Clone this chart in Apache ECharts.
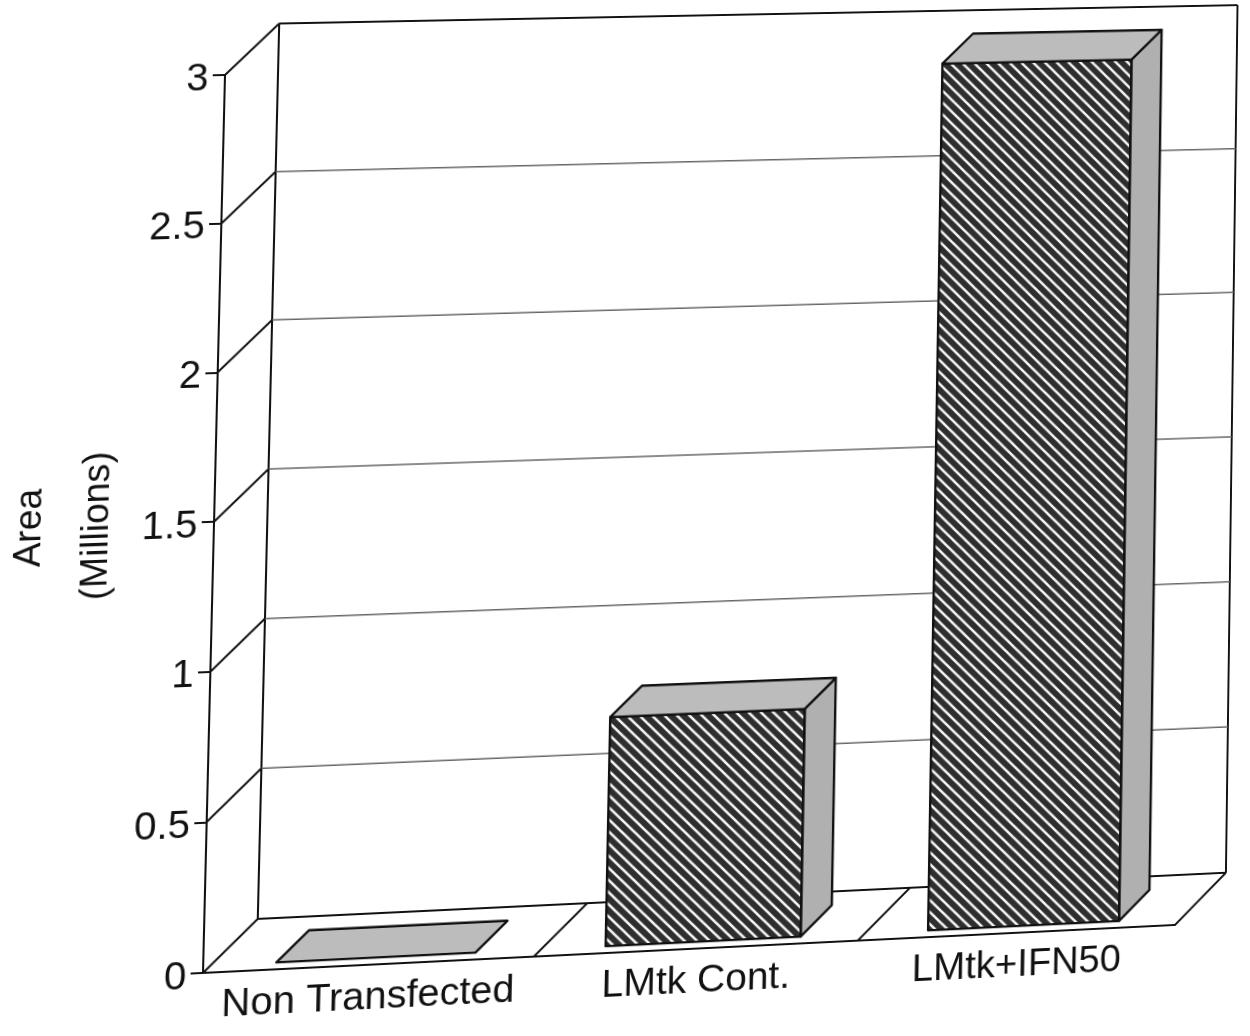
<!DOCTYPE html>
<html lang="en">

<head>
    <meta charset="UTF-8">
    <title>Area</title>
    <script src="https://cdn.jsdelivr.net/npm/echarts/dist/echarts.min.js"></script>
    <style>
        html, body { margin: 0; background: #fff; overflow: hidden; }
        #main { width: 1250px; height: 1036px; transform-origin: 0 0; }
    </style>
</head>

<body>
    <div id="main"></div>

    <script>
        const categories = ['Non Transfected', 'LMtk Cont.', 'LMtk+IFN50'];
        const areaValues = [0, 0.77, 2.965];
        const yTicks = [0, 0.5, 1, 1.5, 2, 2.5, 3];
        const yAxisName = 'Area\n(Millions)';

        // the plot depth in px, and where the bars sit inside it
        const depthX = 52, depthY = -51;
        const barDepthFront = 0.135, barDepthBack = 0.73;
        const barStart = 0.198, barEnd = 0.8;

        // the scan is tilted: warp the flat chart on to these four corners
        const flatCorners = [[203, 973], [203, 75], [1175, 973], [1175, 75]];
        const scanCorners = [[203, 973], [225, 75], [1175, 925], [1187, 55]];

        function homography(src, dst) {
            const m = [];
            src.forEach((s, i) => {
                const d = dst[i];
                m.push([s[0], s[1], 1, 0, 0, 0, -s[0] * d[0], -s[1] * d[0], d[0]]);
                m.push([0, 0, 0, s[0], s[1], 1, -s[0] * d[1], -s[1] * d[1], d[1]]);
            });
            for (let c = 0; c < 8; c++) {
                let p = c;
                for (let r = c + 1; r < 8; r++) if (Math.abs(m[r][c]) > Math.abs(m[p][c])) p = r;
                [m[c], m[p]] = [m[p], m[c]];
                for (let r = 0; r < 8; r++) {
                    if (r === c) continue;
                    const f = m[r][c] / m[c][c];
                    for (let k = c; k < 9; k++) m[r][k] -= f * m[c][k];
                }
            }
            return m.map((row, i) => row[8] / row[i]);
        }

        const h = homography(flatCorners, scanCorners);
        document.getElementById('main').style.transform =
            `matrix3d(${h[0]},${h[3]},0,${h[6]},${h[1]},${h[4]},0,${h[7]},0,0,1,0,${h[2]},${h[5]},0,1)`;

        // hatch tile: white diagonals on dark
        function hatchTile() {
            const size = 12;
            const c = document.createElement('canvas');
            c.width = size; c.height = size;
            const ctx = c.getContext('2d');
            ctx.fillStyle = '#2e2e2e';
            ctx.fillRect(0, 0, size, size);
            ctx.strokeStyle = '#f4f4f4';
            ctx.lineWidth = 2.6;
            [-size, 0, size].forEach(o => {
                ctx.beginPath();
                ctx.moveTo(o - 2, -2);
                ctx.lineTo(o + size + 2, size + 2);
                ctx.stroke();
            });
            return c;
        }
        const hatch = { image: hatchTile(), repeat: 'repeat' };

        const blackLine = { stroke: '#111', lineWidth: 2, fill: 'none' };
        const gridLine = { stroke: '#666', lineWidth: 1.5, fill: 'none' };

        function line(p1, p2, style) {
            return { type: 'line', shape: { x1: p1[0], y1: p1[1], x2: p2[0], y2: p2[1] }, style: style };
        }
        function face(points, fill) {
            return {
                type: 'polygon',
                shape: { points: points },
                style: { fill: fill, stroke: '#111', lineWidth: 2.4, lineJoin: 'round' }
            };
        }
        function atDepth(p, d) {
            return [p[0] + depthX * d, p[1] + depthY * d];
        }

        // side wall and back wall lines, one group per y tick
        function renderWalls(params, api) {
            const v = api.value(1);
            const band = api.size([1, 0])[0];
            const left = api.coord([0, v]); left[0] -= band / 2;
            const right = [left[0] + band * categories.length, left[1]];
            const edge = v === yTicks[0] || v === yTicks[yTicks.length - 1];
            const children = [
                line(atDepth(left, 1), atDepth(right, 1), edge ? blackLine : gridLine),
                line(left, atDepth(left, 1), blackLine)
            ];
            if (v === yTicks[0]) {
                const top = api.coord([0, yTicks[yTicks.length - 1]]); top[0] -= band / 2;
                children.push(line(atDepth(left, 1), atDepth(top, 1), blackLine));
                const topRight = [top[0] + band * categories.length, top[1]];
                children.push(line(atDepth(right, 1), atDepth(topRight, 1), blackLine));
            }
            return { type: 'group', children: children };
        }

        // floor lines at the category boundaries
        function renderFloor(params, api) {
            const band = api.size([1, 0])[0];
            const p = api.coord([api.value(0), 0]);
            p[0] += band / 2;
            return line(p, atDepth(p, 1), blackLine);
        }

        function renderBar(params, api) {
            const i = api.value(0);
            const band = api.size([1, 0])[0];
            const base = api.coord([i, 0]);
            const top = api.coord([i, api.value(1)]);
            const x0 = base[0] - band / 2 + band * barStart;
            const x1 = base[0] - band / 2 + band * barEnd;
            const fBL = atDepth([x0, base[1]], barDepthFront);
            const fBR = atDepth([x1, base[1]], barDepthFront);
            const fTL = atDepth([x0, top[1]], barDepthFront);
            const fTR = atDepth([x1, top[1]], barDepthFront);
            const bTL = atDepth([x0, top[1]], barDepthBack);
            const bTR = atDepth([x1, top[1]], barDepthBack);
            const bBR = atDepth([x1, base[1]], barDepthBack);
            const children = [];
            if (api.value(1) > 0) {
                children.push(face([fBR, bBR, bTR, fTR], '#b0b0b0'));
                children.push(face([fBL, fBR, fTR, fTL], hatch));
            }
            children.push(face([fTL, fTR, bTR, bTL], '#bcbcbc'));
            return { type: 'group', children: children };
        }

        const chart = echarts.init(document.getElementById('main'));
        chart.setOption({
            animation: false,
            textStyle: { fontFamily: 'Liberation Sans' },
            grid: { left: 203, right: 75, top: 75, bottom: 63, outerBoundsMode: 'none' },
            xAxis: {
                type: 'category',
                data: categories,
                axisLine: { lineStyle: { color: '#111', width: 2 } },
                axisTick: { length: 12, lineStyle: { color: '#111', width: 2 } },
                axisLabel: { color: '#111', fontSize: 39, margin: 14, interval: 0 }
            },
            yAxis: {
                type: 'value',
                min: 0,
                max: 3,
                interval: 0.5,
                name: yAxisName,
                nameLocation: 'middle',
                nameRotate: 90,
                nameGap: 80,
                nameTextStyle: { color: '#111', fontSize: 37, lineHeight: 65 },
                axisLine: { show: true, lineStyle: { color: '#111', width: 2 } },
                axisTick: { show: true, length: 12, lineStyle: { color: '#111', width: 2 } },
                // labels sit a little below their ticks in the scan
                axisLabel: { color: '#111', fontSize: 39, margin: 16, verticalAlign: 'top', lineHeight: 8 },
                splitLine: { show: false }
            },
            series: [
                {
                    type: 'custom',
                    renderItem: renderWalls,
                    data: yTicks.map(v => [0, v]),
                    encode: { x: 0, y: 1 },
                    silent: true
                },
                {
                    type: 'custom',
                    renderItem: renderFloor,
                    data: categories.map((c, i) => [i, 0]),
                    encode: { x: 0, y: 1 },
                    silent: true
                },
                {
                    type: 'custom',
                    renderItem: renderBar,
                    data: categories.map((c, i) => [i, areaValues[i]]),
                    encode: { x: 0, y: 1 },
                    silent: true
                }
            ]
        });
    </script>
</body>

</html>
